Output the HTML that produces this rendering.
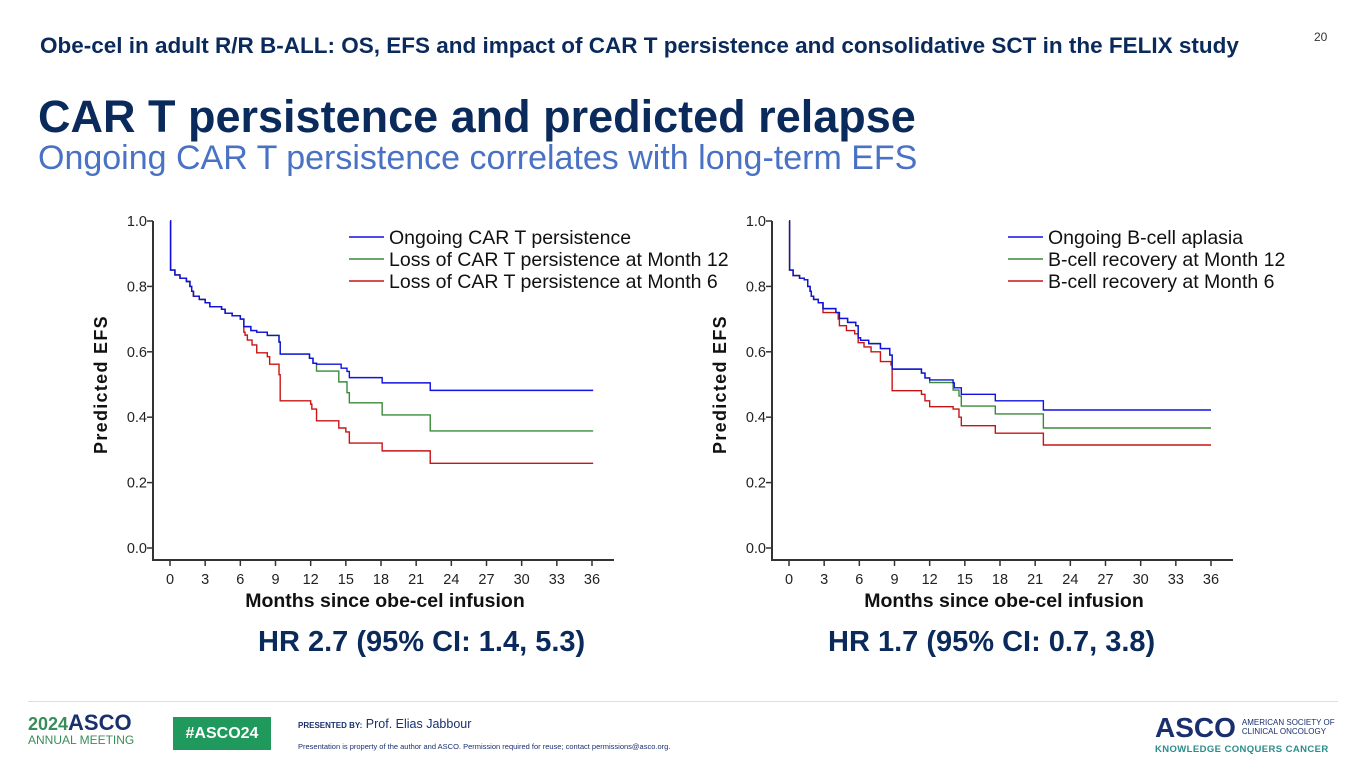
<!DOCTYPE html>
<html><head><meta charset="utf-8"><style>
body{margin:0;width:1365px;height:768px;background:#fff;font-family:"Liberation Sans",Arial,sans-serif;position:relative;overflow:hidden}
.abs{position:absolute;white-space:nowrap}
</style></head><body>
<div class="abs" style="left:40px;top:33px;font-size:22.5px;font-weight:bold;color:#0b2a5c">Obe-cel in adult R/R B-ALL: OS, EFS and impact of CAR T persistence and consolidative SCT in the FELIX study</div>
<div class="abs" style="left:1314px;top:30px;font-size:12px;color:#333">20</div>
<div class="abs" style="left:38px;top:91px;font-size:45px;font-weight:bold;color:#0b2a5c">CAR T persistence and predicted relapse</div>
<div class="abs" style="left:38px;top:139px;font-size:34px;color:#4a72c4">Ongoing CAR T persistence correlates with long-term EFS</div>
<svg id="chart" width="1365" height="768" style="position:absolute;left:0;top:0" xmlns="http://www.w3.org/2000/svg"></svg>
<div class="abs" style="left:258px;top:626px;font-size:29px;font-weight:bold;color:#0b2a5c">HR 2.7 (95% CI: 1.4, 5.3)</div>
<div class="abs" style="left:828px;top:626px;font-size:29px;font-weight:bold;color:#0b2a5c">HR 1.7 (95% CI: 0.7, 3.8)</div>
<div class="abs" style="left:28px;top:701px;width:1310px;height:1px;background:#ddd"></div>
<div class="abs" style="left:28px;top:714px;color:#3a8d5a;font-size:18px;font-weight:bold;line-height:18px">2024<span style="color:#1a2f6e;font-size:22px">ASCO</span><div style="font-size:12px;font-weight:normal;line-height:14px">ANNUAL MEETING</div></div>
<div class="abs" style="left:173px;top:717px;width:98px;height:33px;background:#1f9a5c;color:#fff;font-weight:bold;font-size:16px;line-height:33px;text-align:center">#ASCO24</div>
<div class="abs" style="left:298px;top:717px;font-size:12.5px;color:#1a2f6e"><span style="font-size:8px;font-weight:bold">PRESENTED BY:</span> Prof. Elias Jabbour</div>
<div class="abs" style="left:298px;top:742px;font-size:7.5px;color:#1a2f6e">Presentation is property of the author and ASCO. Permission required for reuse; contact permissions@asco.org.</div>
<div class="abs" style="left:1155px;top:712px;color:#1a2f6e"><span style="font-size:28px;font-weight:bold">ASCO</span><span style="display:inline-block;font-size:8px;line-height:9px;margin-left:6px;vertical-align:3px">AMERICAN SOCIETY OF<br>CLINICAL ONCOLOGY</span><div style="font-size:9.5px;font-weight:bold;color:#2a8d8a;letter-spacing:.4px">KNOWLEDGE CONQUERS CANCER</div></div>
<script>
// Left chart data: [month, survival]
const leftBlue=[[0,1],[0.05,0.85],[0.42,0.835],[0.85,0.825],[1.4,0.815],[1.7,0.8],[1.85,0.785],[2.0,0.77],[2.5,0.76],[3.0,0.75],[3.4,0.738],[4.4,0.73],[4.7,0.718],[5.3,0.71],[6.0,0.70],[6.3,0.677],[6.9,0.665],[7.4,0.66],[8.3,0.65],[9.3,0.63],[9.4,0.593],[11.9,0.58],[12.2,0.565],[12.5,0.562],[14.6,0.55],[15.1,0.54],[15.3,0.521],[18.1,0.505],[22.2,0.482],[36.1,0.482]];
const leftGreen=[[0,1],[0.05,0.85],[0.42,0.835],[0.85,0.825],[1.4,0.815],[1.7,0.8],[1.85,0.785],[2.0,0.77],[2.5,0.76],[3.0,0.75],[3.4,0.738],[4.4,0.73],[4.7,0.718],[5.3,0.71],[6.0,0.70],[6.3,0.677],[6.9,0.665],[7.4,0.66],[8.3,0.65],[9.3,0.63],[9.4,0.593],[11.9,0.58],[12.2,0.565],[12.5,0.541],[14.4,0.508],[15.1,0.475],[15.3,0.444],[18.1,0.407],[22.2,0.358],[36.1,0.358]];
const leftRed=[[0,1],[0.05,0.85],[0.42,0.835],[0.85,0.825],[1.4,0.815],[1.7,0.8],[1.85,0.785],[2.0,0.77],[2.5,0.76],[3.0,0.75],[3.4,0.738],[4.4,0.73],[4.7,0.718],[5.3,0.71],[6.0,0.70],[6.3,0.66],[6.4,0.651],[6.6,0.636],[7.0,0.621],[7.4,0.597],[8.3,0.585],[8.5,0.562],[9.3,0.53],[9.4,0.45],[12.0,0.44],[12.1,0.425],[12.5,0.389],[14.4,0.367],[15.0,0.355],[15.3,0.321],[18.1,0.297],[22.2,0.259],[36.1,0.259]];
// Right chart data
const rightBlue=[[0,1],[0.05,0.85],[0.35,0.833],[0.9,0.825],[1.3,0.82],[1.6,0.80],[1.8,0.785],[1.9,0.77],[2.1,0.76],[2.5,0.75],[2.9,0.732],[4.0,0.72],[4.3,0.702],[5.0,0.69],[5.7,0.68],[5.9,0.643],[6.1,0.635],[6.8,0.625],[7.8,0.61],[8.6,0.59],[8.8,0.547],[11.3,0.535],[11.6,0.52],[12.0,0.514],[14.0,0.505],[14.1,0.49],[14.7,0.47],[17.6,0.45],[21.7,0.422],[36,0.422]];
const rightGreen=[[0,1],[0.05,0.85],[0.35,0.833],[0.9,0.825],[1.3,0.82],[1.6,0.80],[1.8,0.785],[1.9,0.77],[2.1,0.76],[2.5,0.75],[2.9,0.732],[4.0,0.72],[4.3,0.702],[5.0,0.69],[5.7,0.68],[5.9,0.643],[6.1,0.635],[6.8,0.625],[7.8,0.61],[8.6,0.59],[8.8,0.547],[11.3,0.535],[11.6,0.52],[12.0,0.506],[14.0,0.483],[14.5,0.465],[14.7,0.434],[17.6,0.41],[21.7,0.367],[36,0.367]];
const rightRed=[[0,1],[0.05,0.85],[0.35,0.833],[0.9,0.825],[1.3,0.82],[1.6,0.80],[1.8,0.785],[1.9,0.77],[2.1,0.76],[2.5,0.75],[2.9,0.72],[4.2,0.70],[4.3,0.68],[4.9,0.665],[5.6,0.655],[5.9,0.628],[6.4,0.615],[7.0,0.60],[7.8,0.57],[8.7,0.56],[8.8,0.481],[11.3,0.47],[11.6,0.45],[12.0,0.432],[14.0,0.425],[14.5,0.40],[14.7,0.374],[17.6,0.351],[21.7,0.315],[36,0.315]];
const xTicks=[0,3,6,9,12,15,18,21,24,27,30,33,36];
const yTicks=[0,0.2,0.4,0.6,0.8,1.0];
const leftLegend=["Ongoing CAR T persistence","Loss of CAR T persistence at Month 12","Loss of CAR T persistence at Month 6"];
const rightLegend=["Ongoing B-cell aplasia","B-cell recovery at Month 12","B-cell recovery at Month 6"];
const colors=["#1010e0","#3a8a3a","#c81414"];
const svg=document.getElementById('chart');
const NS="http://www.w3.org/2000/svg";
function mk(t,a,p){const e=document.createElementNS(NS,t);for(const k in a)e.setAttribute(k,a[k]);(p||svg).appendChild(e);return e;}
function drawChart(cfg){
  const g=mk('g',{});
  
  
  const xs=m=>cfg.x0+(cfg.x36-cfg.x0)*m/36;
  const ys=v=>548-327*v;
  const ax=mk('path',{d:`M${cfg.ax},221 V560 H${cfg.axEnd}`,stroke:'#333','stroke-width':2,fill:'none'},g);
  
  
  yTicks.forEach(v=>{
    mk('line',{x1:cfg.ax-6,x2:cfg.ax,y1:ys(v),y2:ys(v),stroke:'#333','stroke-width':1.5},g);
    const t=mk('text',{x:cfg.ax-6,y:ys(v)+5,'text-anchor':'end','font-size':14.5,fill:'#222'},g);
    
    
    t.textContent=v.toFixed(1);
  });
  xTicks.forEach(m=>{
    mk('line',{x1:xs(m),x2:xs(m),y1:560,y2:566,stroke:'#333','stroke-width':1.5},g);
    const t=mk('text',{x:xs(m),y:584,'text-anchor':'middle','font-size':14.5,fill:'#222'},g);
    
    
    t.textContent=m;
  });
  const xt=mk('text',{x:(cfg.x0+cfg.x36)/2+4,y:607,'text-anchor':'middle','font-size':19.5,'font-weight':'bold',fill:'#111'},g);
  
  
  xt.textContent="Months since obe-cel infusion";
  const yt=mk('text',{x:0,y:0,transform:`translate(${cfg.ax-46},${ys(0.5)}) rotate(-90)`,'text-anchor':'middle','font-size':18,'font-weight':'bold',fill:'#111','letter-spacing':1.3},g);
  
  
  yt.textContent="Predicted EFS";
  [2,1,0].forEach(i=>{
    const s=cfg.series[i];
    let d=`M${xs(s[0][0])},${ys(s[0][1])}`;
    for(let k=1;k<s.length;k++){d+=` H${xs(s[k][0])} V${ys(s[k][1])}`;}
    const p=mk('path',{d:d,stroke:colors[i],'stroke-width':1.4,fill:'none'},g);
    
    
  });
  cfg.legend.forEach((lab,i)=>{
    const y=237+22*i;
    mk('line',{x1:cfg.lx,x2:cfg.lx+35,y1:y,y2:y,stroke:colors[i],'stroke-width':1.5},g);
    const t=mk('text',{x:cfg.lx+40,y:y+7,'font-size':19.5,fill:'#111'},g);
    
    
    t.textContent=lab;
  });
}
drawChart({name:'left-chart',ax:153,axEnd:614,x0:170,x36:592,series:[leftBlue,leftGreen,leftRed],legend:leftLegend,lx:349});
drawChart({name:'right-chart',ax:772,axEnd:1233,x0:789,x36:1211,series:[rightBlue,rightGreen,rightRed],legend:rightLegend,lx:1008});
</script>
</body></html>
